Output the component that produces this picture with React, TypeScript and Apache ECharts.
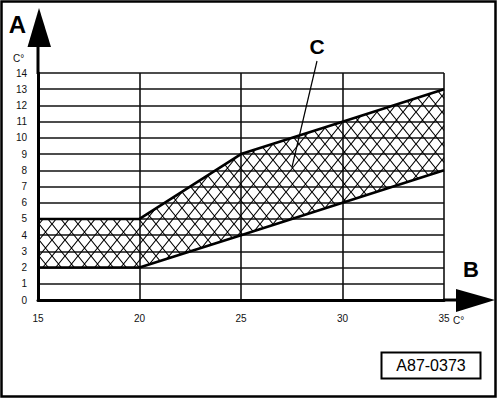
import * as echarts from 'echarts';
import React, { useEffect, useRef } from 'react';

// temperature ticks on the B axis
const tempTicks = ['15', '20', '25', '30', '35'];
// band limits on the A axis, one value per tick
const lowerLimit = [2, 2, 4, 6, 8];
const upperLimit = [5, 5, 9, 11, 13];

const FONT = 'Arial, "Liberation Sans", sans-serif';

// cross-hatch tile for the band
const makeHatch = () => {
  const w = 13;
  const h = 16;
  const c = document.createElement('canvas');
  c.width = w;
  c.height = h;
  const ctx = c.getContext('2d');
  if (ctx) {
    ctx.strokeStyle = '#000';
    ctx.lineWidth = 1.1;
    ctx.beginPath();
    ctx.moveTo(0, 0);
    ctx.lineTo(w, h);
    ctx.moveTo(w, 0);
    ctx.lineTo(0, h);
    ctx.stroke();
  }
  return c;
};

export default function App() {
  const chartRef = useRef<HTMLDivElement>(null);

  useEffect(() => {
    if (!chartRef.current) return;
    const chart = echarts.init(chartRef.current, null, { renderer: 'svg' });

    // band thickness stacked on top of the lower limit
    const bandData = upperLimit.map((u, i) => u - lowerLimit[i]);
    const hatch = makeHatch();

    const option = {
      animation: false,
      backgroundColor: '#fff',
      grid: { left: 38, right: 56, top: 73, bottom: 100, containLabel: false },
      xAxis: {
        type: 'category',
        data: tempTicks,
        boundaryGap: false,
        axisLine: { show: true, lineStyle: { color: '#000', width: 3 } },
        axisTick: { show: false },
        axisLabel: { fontSize: 10, color: '#111', margin: 13, fontFamily: FONT, interval: 0 },
        splitLine: { show: true, interval: 0, lineStyle: { color: '#111', width: 1.6 } },
      },
      yAxis: {
        type: 'value',
        min: 0,
        max: 14,
        interval: 1,
        axisLine: { show: true, lineStyle: { color: '#000', width: 3 } },
        axisTick: { show: false },
        axisLabel: { fontSize: 10, color: '#111', margin: 11, fontFamily: FONT },
        splitLine: { show: true, lineStyle: { color: '#111', width: 1.6 } },
      },
      series: [
        {
          name: 'lower',
          type: 'line',
          stack: 'band',
          symbol: 'none',
          data: lowerLimit,
          lineStyle: { color: '#000', width: 2.6 },
          z: 3,
        },
        {
          name: 'band',
          type: 'line',
          stack: 'band',
          symbol: 'none',
          data: bandData,
          lineStyle: { color: '#000', width: 2.6 },
          areaStyle: {
            color: { image: hatch, repeat: 'repeat', imageWidth: 13, imageHeight: 16 },
            opacity: 1,
          },
          z: 2,
        },
      ],
      graphic: [
        // outer frame
        {
          type: 'rect',
          shape: { x: 1.5, y: 1.5, width: 494, height: 395 },
          style: { fill: 'none', stroke: '#000', lineWidth: 2.5 },
          z: 10,
        },
        // axis A extension and arrow
        {
          type: 'line',
          shape: { x1: 38, y1: 74, x2: 38, y2: 45 },
          style: { stroke: '#000', lineWidth: 3 },
          z: 10,
        },
        {
          type: 'polygon',
          shape: { points: [[39, 8], [27.5, 47], [51, 47]] },
          style: { fill: '#000' },
          z: 10,
        },
        // axis B extension and arrow
        {
          type: 'line',
          shape: { x1: 443, y1: 300, x2: 458, y2: 300 },
          style: { stroke: '#000', lineWidth: 3 },
          z: 10,
        },
        {
          type: 'polygon',
          shape: { points: [[456, 289], [456, 312], [495, 300]] },
          style: { fill: '#000' },
          z: 10,
        },
        // axis letters
        {
          type: 'text',
          x: 17.5,
          y: 24,
          style: { text: 'A', font: `bold 24px ${FONT}`, fill: '#000', align: 'center', verticalAlign: 'middle' },
          z: 10,
        },
        {
          type: 'text',
          x: 471,
          y: 269.5,
          style: { text: 'B', font: `bold 22px ${FONT}`, fill: '#000', align: 'center', verticalAlign: 'middle' },
          z: 10,
        },
        // units
        {
          type: 'text',
          x: 13,
          y: 58,
          style: { text: 'C°', font: `10px ${FONT}`, fill: '#111', align: 'left', verticalAlign: 'middle' },
          z: 10,
        },
        {
          type: 'text',
          x: 453,
          y: 320,
          style: { text: 'C°', font: `10px ${FONT}`, fill: '#111', align: 'left', verticalAlign: 'middle' },
          z: 10,
        },
        // band callout
        {
          type: 'text',
          x: 317,
          y: 46,
          style: { text: 'C', font: `bold 21px ${FONT}`, fill: '#000', align: 'center', verticalAlign: 'middle' },
          z: 10,
        },
        {
          type: 'line',
          shape: { x1: 317, y1: 61, x2: 292, y2: 167 },
          style: { stroke: '#000', lineWidth: 1.2 },
          z: 10,
        },
        // figure number box
        {
          type: 'rect',
          shape: { x: 381.5, y: 352.5, width: 99, height: 26 },
          style: { fill: '#fff', stroke: '#000', lineWidth: 2 },
          z: 10,
        },
        {
          type: 'text',
          x: 431,
          y: 365.5,
          style: { text: 'A87-0373', font: `16px ${FONT}`, fill: '#000', align: 'center', verticalAlign: 'middle' },
          z: 11,
        },
      ],
    };

    chart.setOption(option);

    return () => {
      chart.dispose();
    };
  }, []);

  return (
    <div
      ref={chartRef}
      style={{ position: 'absolute', left: 0, top: 0, width: 500, height: 400 }}
    ></div>
  );
}
